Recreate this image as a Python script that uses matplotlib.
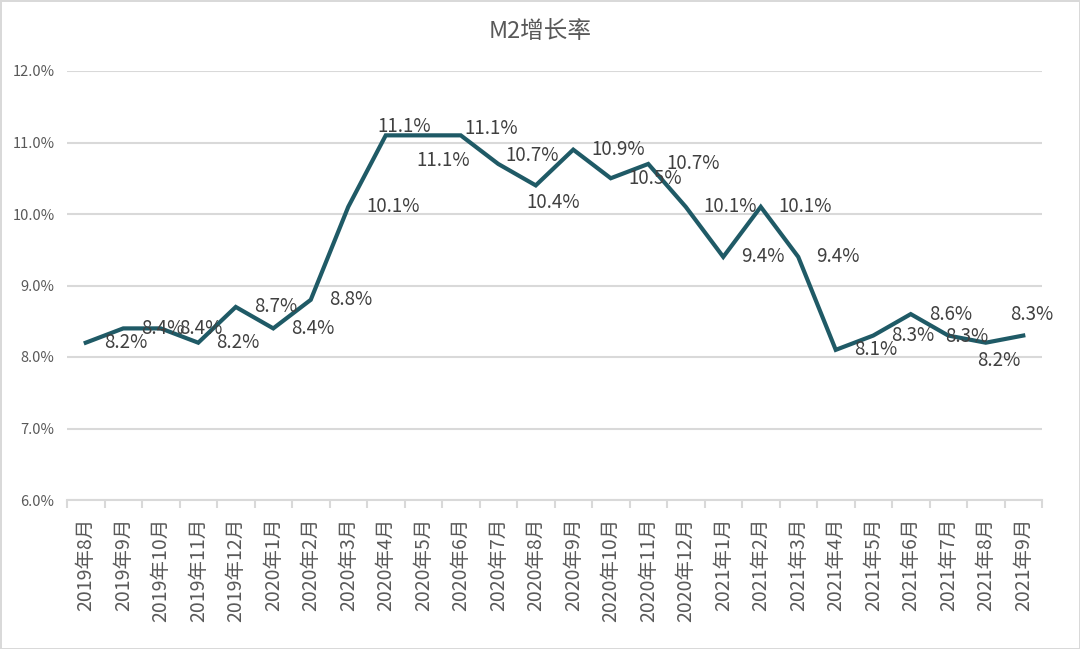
import matplotlib
matplotlib.use("Agg")
import matplotlib.pyplot as plt
from matplotlib.ticker import FixedLocator

plt.rcParams['font.family'] = ['Noto Sans CJK SC', 'DejaVu Sans']

# ── Data ───────────────────────────────────────────────────────────────────────
months = ["2019年8月", "2019年9月", "2019年10月", "2019年11月", "2019年12月",
          "2020年1月", "2020年2月", "2020年3月", "2020年4月", "2020年5月",
          "2020年6月", "2020年7月", "2020年8月", "2020年9月", "2020年10月",
          "2020年11月", "2020年12月", "2021年1月", "2021年2月", "2021年3月",
          "2021年4月", "2021年5月", "2021年6月", "2021年7月", "2021年8月",
          "2021年9月"]
m2_growth = [8.2, 8.4, 8.4, 8.2, 8.7, 8.4, 8.8, 10.1, 11.1, 11.1,
             11.1, 10.7, 10.4, 10.9, 10.5, 10.7, 10.1, 9.4, 10.1, 9.4,
             8.1, 8.3, 8.6, 8.3, 8.2, 8.3]
y_ticks = [6, 7, 8, 9, 10, 11, 12]

# label offsets in pixels (dx right, dy down) – default is "right of point"
label_shift = {8: (-8, -9), 9: (-7, 25), 10: (4, -7), 11: (7, -8),
               12: (-9, 17), 23: (-3, 1), 24: (-9, 18), 25: (-13, -21)}

LINE_COL = "#1f5a66"
GRID_COL = "#d9d9d9"
TEXT_COL = "#595959"
LABEL_COL = "#404040"

# ── Figure ────────────────────────────────────────────────────────────────────
W, H = 1080, 649
fig = plt.figure(figsize=(W / 100, H / 100), dpi=100,
                 edgecolor=GRID_COL, linewidth=2)
ax = fig.add_axes([67 / W, 1 - 500 / H, (1042 - 67) / W, (500 - 71) / H])

x = list(range(len(months)))
ax.plot(x, m2_growth, color=LINE_COL, linewidth=3.0, solid_joinstyle="miter",
        zorder=3)

for i, v in enumerate(m2_growth):
    dx, dy = label_shift.get(i, (18, 0))
    ax.annotate(f"{v:.1f}%", (i, v), xytext=(dx * 0.72, -dy * 0.72),
                textcoords="offset points", ha="left", va="center",
                fontsize=13.5, color=LABEL_COL, zorder=4)

ax.set_xlim(-0.5, len(months) - 0.5)
ax.set_ylim(6, 12)
ax.set_yticks(y_ticks)
ax.set_yticklabels([f"{t:.1f}%" for t in y_ticks])
ax.grid(axis="y", color=GRID_COL, linewidth=1.5, zorder=0)

ax.set_xticks(x)
ax.set_xticklabels(months, rotation=90, fontsize=14, color=TEXT_COL)
ax.xaxis.set_minor_locator(FixedLocator([i - 0.5 for i in range(len(months) + 1)]))
ax.tick_params(axis="x", which="major", length=0, pad=13)
ax.tick_params(axis="x", which="minor", length=6, width=1.5, color=GRID_COL,
               direction="out")
ax.tick_params(axis="y", length=0, pad=9, labelsize=10.5, labelcolor=TEXT_COL)

for side in ["top", "right", "left"]:
    ax.spines[side].set_visible(False)
ax.spines["bottom"].set_color(GRID_COL)
ax.spines["bottom"].set_linewidth(1.5)

fig.text(0.5, 1 - 32 / H, "M2增长率", ha="center", va="center",
         fontsize=17, color=TEXT_COL)

fig.savefig("out.png", dpi=100, edgecolor=fig.get_edgecolor())
